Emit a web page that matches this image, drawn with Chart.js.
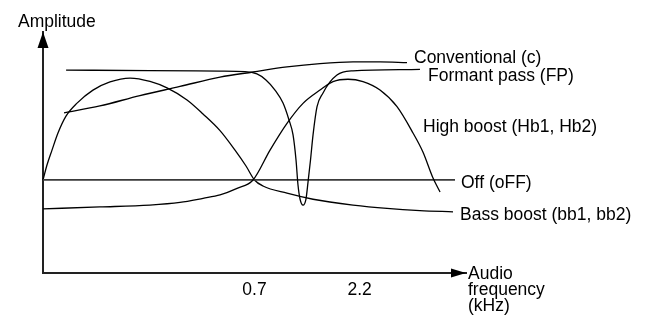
<!DOCTYPE html>
<html><head><meta charset="utf-8">
<script src="https://cdn.jsdelivr.net/npm/chart.js@4"></script>
<style>html,body{margin:0;padding:0;background:#fff;}#wrap{position:relative;width:649px;height:323px;}</style>
</head><body><div id="wrap"><canvas id="c" width="649" height="323"></canvas></div>
<script>
// Tick labels of the frequency axis (kHz)
const tickValues = [0.7, 2.2];
const tickLabels = ['0.7', '2.2'];
const yAxisTitle = 'Amplitude';
const xAxisTitle = ['Audio', 'frequency', '(kHz)'];
const seriesNames = ['Conventional (c)', 'Formant pass (FP)', 'High boost (Hb1, Hb2)', 'Off (oFF)', 'Bass boost (bb1, bb2)'];

// Conventional (c)
const convFreq = [0.088, 0.130, 0.201, 0.311, 0.481, 0.689, 0.997, 1.428, 2.046, 2.745, 3.682];
const convAmp  = [66.4, 69.3, 73.6, 77.4, 81.3, 83.4, 85.5, 86.9, 87.6, 87.6, 87.3];

// Formant pass (FP)
const fpFreq = [0.090, 0.224, 0.481, 0.631, 0.719, 0.793, 0.875, 0.955, 1.019, 1.065, 1.100, 1.124, 1.149, 1.187, 1.226, 1.254, 1.288, 1.324, 1.382, 1.476, 1.593, 1.718, 1.834, 2.046, 4.241];
const fpAmp  = [84.2, 84.0, 83.8, 83.6, 82.6, 80.1, 75.9, 70.5, 63.5, 57.3, 46.9, 36.5, 30.7, 28.2, 30.7, 37.8, 46.9, 57.3, 68.9, 74.7, 79.3, 82.2, 83.4, 83.9, 84.5];

// High boost (Hb1, Hb2)
const hbFreq = [0.070, 0.130, 0.224, 0.311, 0.400, 0.481, 0.579, 0.689, 0.829, 0.997, 1.187, 1.428, 1.645, 1.937, 2.281, 2.745, 3.303, 3.931, 4.380, 4.888, 5.277];
const hbAmp  = [26.6, 27.4, 28.2, 29.3, 31.0, 32.4, 35.1, 38.6, 51.0, 62.1, 70.4, 75.9, 79.4, 80.4, 79.4, 75.9, 69.0, 58.1, 50.2, 39.4, 33.6];

// Off (oFF)
const offFreq = [0.070, 6.21];
const offAmp  = [38.6, 38.6];

// Bass boost (bb1, bb2)
const bbFreq = [0.070, 0.0731, 0.0772, 0.0824, 0.0899, 0.1014, 0.1206, 0.1452, 0.1805, 0.2244, 0.2701, 0.3358, 0.3996, 0.4809, 0.5662, 0.6382, 0.700, 0.768, 0.997, 1.324, 2.046, 2.962, 4.241, 6.077];
const bbAmp  = [38.6, 44.8, 51.0, 58.1, 65.1, 70.5, 75.9, 79.3, 80.9, 79.5, 76.8, 71.8, 66.0, 59.1, 51.0, 44.4, 38.6, 36.1, 33.1, 30.6, 28.2, 26.8, 25.9, 25.4];

const pts = (xs, ys) => xs.map((x, i) => ({x, y: ys[i]}));
const FONT = '17.5px "Liberation Sans", Arial, Helvetica, sans-serif';

function ds(label, xs, ys, color, width) {
  return {label, data: pts(xs, ys), borderColor: color, borderWidth: width,
    pointRadius: 0, fill: false, cubicInterpolationMode: 'monotone', clip: false};
}

const decor = {
  id: 'decor',
  afterDraw(chart) {
    const {ctx, chartArea: a} = chart;
    ctx.save();
    ctx.fillStyle = '#000';
    ctx.beginPath();
    ctx.moveTo(a.left, a.top); ctx.lineTo(a.left - 5.5, a.top + 16); ctx.lineTo(a.left + 5.5, a.top + 16);
    ctx.closePath(); ctx.fill();
    ctx.beginPath();
    ctx.moveTo(a.right, a.bottom); ctx.lineTo(a.right - 15, a.bottom - 4.5); ctx.lineTo(a.right - 15, a.bottom + 4.5);
    ctx.closePath(); ctx.fill();
    ctx.font = FONT; ctx.textAlign = 'left'; ctx.textBaseline = 'alphabetic';
    ctx.fillText(yAxisTitle, 18, 26.5);
    const pos = [[414, 63], [428, 81], [423, 132], [461, 188], [460, 220]];
    seriesNames.forEach((n, i) => ctx.fillText(n, pos[i][0], pos[i][1]));
    xAxisTitle.forEach((t, i) => ctx.fillText(t, 468, 279 + i * 16));
    ctx.restore();
  }
};

new Chart(document.getElementById('c'), {
  type: 'line',
  data: {datasets: [
    ds(seriesNames[0], convFreq, convAmp, '#000', 1.3),
    ds(seriesNames[1], fpFreq, fpAmp, '#000', 1.3),
    ds(seriesNames[2], hbFreq, hbAmp, '#000', 1.3),
    ds(seriesNames[3], offFreq, offAmp, '#3a3a3a', 1.8),
    ds(seriesNames[4], bbFreq, bbAmp, '#000', 1.3)
  ]},
  options: {
    responsive: false, devicePixelRatio: 1, animation: false,
    layout: {padding: {left: 0, top: 32, right: 183, bottom: 0}},
    plugins: {legend: {display: false}, tooltip: {enabled: false}},
    scales: {
      x: {
        type: 'logarithmic', min: 0.07, max: 7,
        grid: {display: false, drawTicks: false},
        border: {display: true, color: '#222', width: 2},
        afterBuildTicks: s => { s.ticks = tickValues.map(v => ({value: v})); },
        afterFit: s => { s.height = 50; },
        ticks: {autoSkip: false, maxRotation: 0, padding: 7, color: '#000',
          font: {family: '"Liberation Sans", Arial, sans-serif', size: 17.5},
          callback: (v) => { const i = tickValues.indexOf(v); return i >= 0 ? tickLabels[i] : ''; }}
      },
      y: {
        min: 0, max: 100,
        grid: {display: false, drawTicks: false},
        border: {display: true, color: '#222', width: 2},
        ticks: {display: false},
        afterFit: s => { s.width = 43; }
      }
    }
  },
  plugins: [decor]
});
</script></body></html>
